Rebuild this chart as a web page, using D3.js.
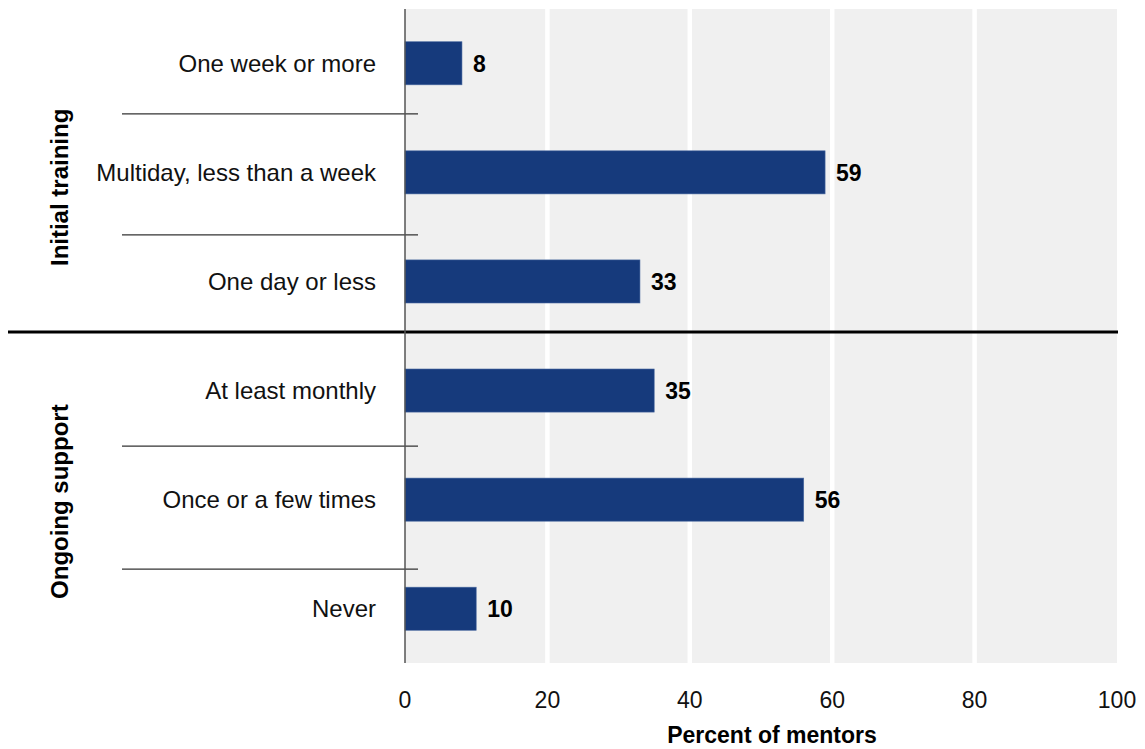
<!DOCTYPE html>
<html><head><meta charset="utf-8">
<script src="https://cdn.jsdelivr.net/npm/d3@7"></script>
<style>body{margin:0;background:#fff;}svg{display:block;font-family:"Liberation Sans",Arial,sans-serif;}</style>
</head><body><svg id="c" width="1145" height="749"></svg>
<script>
const categories = ["One week or more","Multiday, less than a week","One day or less","At least monthly","Once or a few times","Never"];
const groups = ["Initial training","Initial training","Initial training","Ongoing support","Ongoing support","Ongoing support"];
const values = [8,59,33,35,56,10];
const groupNames = ["Initial training","Ongoing support"];
const xTicks = [0,20,40,60,80,100];
const xTitle = "Percent of mentors";

const svg = d3.select("#c");
const x = d3.scaleLinear().domain([0,100]).range([405,1117]);
const y = d3.scaleBand().domain(categories).range([9,663]).paddingInner(0.605).paddingOuter(0.3);

// background
svg.append("rect").attr("x",x(0)).attr("y",9).attr("width",x(100)-x(0)).attr("height",654).attr("fill","#f0f0f0");
// gridlines
svg.selectAll(".grid").data(xTicks.filter(d=>d>0&&d<100)).enter().append("line")
  .attr("x1",d=>x(d)).attr("x2",d=>x(d)).attr("y1",9).attr("y2",663)
  .attr("stroke","#fff").attr("stroke-width",4.5);

// bars
svg.selectAll(".bar").data(values).enter().append("rect")
  .attr("x",x(0)).attr("y",(d,i)=>y(categories[i])).attr("width",d=>x(d)-x(0)).attr("height",y.bandwidth())
  .attr("fill","#163a7c").attr("stroke","#4a6aa0").attr("stroke-width",0.6);

// value labels
svg.selectAll(".val").data(values).enter().append("text")
  .attr("x",d=>x(d)+11).attr("y",(d,i)=>y(categories[i])+y.bandwidth()/2).attr("dy","0.36em")
  .attr("font-size",23).attr("font-weight","bold").attr("fill","#000").text(d=>d);

// category labels
svg.selectAll(".cat").data(categories).enter().append("text")
  .attr("x",376).attr("y",d=>y(d)+y.bandwidth()/2).attr("dy","0.35em").attr("text-anchor","end")
  .attr("font-size",24).attr("fill","#111").text(d=>d);

// separators between categories (small visual offsets as in the original layout)
const step = y.step();
const sepNudge = [-4, 8, -4, 1, 15];
for(let i=1;i<categories.length;i++){
  const yy = y(categories[i]) - (step - y.bandwidth())/2 + sepNudge[i-1];
  if(groups[i]!==groups[i-1]){
    svg.append("line").attr("x1",8).attr("x2",1118).attr("y1",yy).attr("y2",yy).attr("stroke","#000").attr("stroke-width",3);
  } else {
    svg.append("line").attr("x1",122).attr("x2",418).attr("y1",yy).attr("y2",yy).attr("stroke","#333").attr("stroke-width",1.2);
  }
}

// axis line
svg.append("line").attr("x1",x(0)).attr("x2",x(0)).attr("y1",9).attr("y2",663).attr("stroke","#555").attr("stroke-width",1.5);

// group labels
groupNames.forEach((g,gi)=>{
  const idx = groups.map((d,i)=>d===g?i:-1).filter(i=>i>=0);
  const top = y(categories[idx[0]]), bot = y(categories[idx[idx.length-1]])+y.bandwidth();
  const cy = (top+bot)/2 + (gi===0?15:2);
  svg.append("text").attr("transform",`translate(68,${cy}) rotate(-90)`).attr("text-anchor","middle")
    .attr("font-size",24).attr("font-weight","bold").attr("fill","#000").text(g);
});

// x tick labels
svg.selectAll(".tick").data(xTicks).enter().append("text")
  .attr("x",d=>x(d)).attr("y",708).attr("text-anchor","middle").attr("font-size",23).attr("fill","#111").text(d=>d);

svg.append("text").attr("x",772).attr("y",743).attr("text-anchor","middle").attr("font-size",23).attr("font-weight","bold").attr("fill","#000").text(xTitle);
</script></body></html>
